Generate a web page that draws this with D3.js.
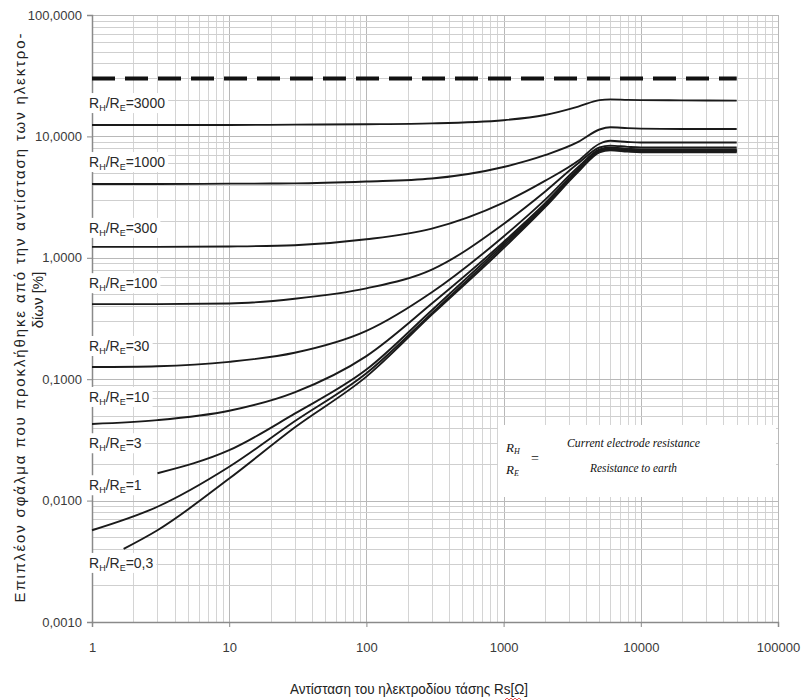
<!DOCTYPE html>
<html>
<head>
<meta charset="utf-8">
<script src="https://cdn.jsdelivr.net/npm/d3@7"></script>
<style>
  body { margin: 0; background: #fff; }
  text { font-family: "Liberation Sans", Arial, sans-serif; }
</style>
</head>
<body>
<script>
// Rs [Ω] against additional error [%], one series per RH/RE ratio
let ratioLabels = ['3000', '1000', '300', '100', '30', '10', '3', '1', '0,3'];

let rh3000 = [[1, 12.4], [3, 12.4], [10, 12.4], [30, 12.5], [100, 12.6], [300, 12.8], [1000, 13.6], [2000, 15.0], [3500, 17.6], [5000, 19.9], [6000, 20.2], [8000, 20.0], [10000, 19.9], [20000, 19.8], [50000, 19.7]];
let rh1000 = [[1, 4.05], [3, 4.05], [10, 4.08], [30, 4.1], [100, 4.25], [300, 4.5], [1000, 5.6], [2000, 7.0], [3500, 9.0], [5000, 11.4], [6000, 11.9], [8000, 11.7], [10000, 11.6], [20000, 11.5], [50000, 11.5]];
let rh300 = [[1, 1.23], [3, 1.23], [10, 1.24], [30, 1.27], [100, 1.42], [300, 1.74], [1000, 2.85], [2000, 4.3], [3500, 6.3], [5000, 8.7], [6000, 9.2], [8000, 9.0], [10000, 8.9], [20000, 8.9], [50000, 8.9]];
let rh100 = [[1, 0.415], [3, 0.415], [10, 0.42], [30, 0.46], [100, 0.56], [300, 0.8], [1000, 1.9], [2000, 3.5], [3500, 6.0], [5000, 8.1], [6000, 8.4], [8000, 8.2], [10000, 8.1], [20000, 8.1], [50000, 8.1]];
let rh30 = [[1, 0.126], [3, 0.128], [10, 0.139], [30, 0.165], [100, 0.25], [300, 0.52], [1000, 1.5], [2000, 3.0], [3500, 5.6], [5000, 7.8], [6000, 8.1], [8000, 7.9], [10000, 7.8], [20000, 7.8], [50000, 7.8]];
let rh10 = [[1, 0.0428], [3, 0.046], [10, 0.055], [30, 0.078], [100, 0.155], [300, 0.42], [1000, 1.35], [2000, 2.8], [3500, 5.4], [5000, 7.7], [6000, 8.0], [8000, 7.8], [10000, 7.7], [20000, 7.7], [50000, 7.7]];
let rh3 = [[3, 0.0168], [10, 0.026], [30, 0.052], [100, 0.12], [300, 0.37], [1000, 1.3], [2000, 2.7], [3500, 5.3], [5000, 7.6], [6000, 7.9], [8000, 7.7], [10000, 7.6], [20000, 7.6], [50000, 7.6]];
let rh1 = [[1, 0.0057], [3, 0.0089], [10, 0.019], [30, 0.045], [100, 0.112], [300, 0.35], [1000, 1.25], [2000, 2.65], [3500, 5.2], [5000, 7.5], [6000, 7.8], [8000, 7.6], [10000, 7.5], [20000, 7.5], [50000, 7.5]];
let rh03 = [[1.7, 0.004], [3, 0.0057], [10, 0.0152], [30, 0.04], [100, 0.105], [300, 0.34], [1000, 1.2], [2000, 2.6], [3500, 5.1], [5000, 7.4], [6000, 7.7], [8000, 7.5], [10000, 7.4], [20000, 7.4], [50000, 7.4]];

// the dashed limit line
let limitLine = [[1, 30], [50000, 30]];

let xTickValues = [1, 10, 100, 1000, 10000, 100000];
let yTickValues = [0.001, 0.01, 0.1, 1, 10, 100];

let series = [rh3000, rh1000, rh300, rh100, rh30, rh10, rh3, rh1, rh03];

let width = 801;
let height = 700;
let margin = {top: 15, right: 23, bottom: 78, left: 92};

let svg = d3.select('body')
    .append('svg')
    .attr('width', width)
    .attr('height', height);

let x = d3.scaleLog()
    .domain([1, 100000])
    .range([margin.left, width - margin.right]);

let y = d3.scaleLog()
    .domain([0.001, 100])
    .range([height - margin.bottom, margin.top]);

// grid
let grid = svg.append('g');

grid.selectAll('.vgrid')
    .data(x.ticks())
  .enter().append('line')
    .attr('x1', d => Math.round(x(d)) + 0.5)
    .attr('x2', d => Math.round(x(d)) + 0.5)
    .attr('y1', y(100))
    .attr('y2', y(0.001))
    .attr('stroke', d => xTickValues.includes(d) ? '#b8b8b8' : '#d4d4d4')
    .attr('stroke-width', 1);

grid.selectAll('.hgrid')
    .data(y.ticks())
  .enter().append('line')
    .attr('x1', x(1))
    .attr('x2', x(100000))
    .attr('y1', d => Math.round(y(d)) + 0.5)
    .attr('y2', d => Math.round(y(d)) + 0.5)
    .attr('stroke', d => yTickValues.some(t => Math.abs(t - d) < t * 1e-6) ? '#b8b8b8' : '#cfcfcf')
    .attr('stroke-width', 1);

// white box of the legend covers the grid
svg.append('rect')
    .attr('x', 498)
    .attr('y', 425)
    .attr('width', 278)
    .attr('height', 72)
    .attr('fill', '#fff');

// axes
let xAxis = d3.axisBottom(x)
    .tickValues(xTickValues)
    .tickFormat(d3.format('d'))
    .tickSize(5)
    .tickPadding(16);

let yAxis = d3.axisLeft(y)
    .tickValues(yTickValues)
    .tickFormat(d => d.toFixed(4).replace('.', ','))
    .tickSize(5)
    .tickPadding(5);

let gx = svg.append('g')
    .attr('transform', `translate(0,${y(0.001)})`)
    .call(xAxis);

let gy = svg.append('g')
    .attr('transform', `translate(${x(1)},0)`)
    .call(yAxis);

[gx, gy].forEach(g => {
    g.select('.domain').attr('stroke', '#8a8a8a').attr('stroke-width', 1.5);
    g.selectAll('.tick line').attr('stroke', '#8a8a8a');
    g.selectAll('.tick text')
        .attr('fill', '#3a3a3a')
        .style('font-size', '13px')
        .style('font-family', '"Liberation Sans", Arial, sans-serif');
});

// curves
let line = d3.line()
    .x(d => x(d[0]))
    .y(d => y(d[1]))
    .curve(d3.curveMonotoneX);

svg.append('path')
    .datum(limitLine)
    .attr('d', line)
    .attr('fill', 'none')
    .attr('stroke', '#111')
    .attr('stroke-width', 4)
    .attr('stroke-dasharray', '23,10');

svg.append('g')
    .selectAll('path')
    .data(series)
  .enter().append('path')
    .attr('d', line)
    .attr('fill', 'none')
    .attr('stroke', '#1a1a1a')
    .attr('stroke-width', 1.9);

// ratio labels: offset from each curve's left end (px)
let labelOffset = [-22, -22, -19, -21, -21, -27, -30, -45, 14];

let labels = svg.append('g');
ratioLabels.forEach((r, i) => {
    let first = series[i][0];
    let cy = y(first[1]) + labelOffset[i];
    let g = labels.append('g').attr('transform', `translate(89,${cy})`);
    let bg = g.append('rect').attr('fill', '#fff');
    let t = g.append('text')
        .attr('y', 5)
        .attr('fill', '#2a2a2a')
        .style('font-size', '14px');
    t.append('tspan').text('R');
    t.append('tspan').attr('dy', 3).style('font-size', '9px').text('H');
    t.append('tspan').attr('dy', -3).text('/R');
    t.append('tspan').attr('dy', 3).style('font-size', '9px').text('E');
    t.append('tspan').attr('dy', -3).text('=' + r);
    let bb = t.node().getBBox();
    bg.attr('x', -1).attr('y', -10).attr('width', bb.width + 4).attr('height', 20);
});

// legend text, italic serif
let serif = '"Liberation Serif", "DejaVu Serif", "Times New Roman", serif';
let leg = svg.append('g').attr('fill', '#111');

function legendText(xPos, yPos) {
    return leg.append('text')
        .attr('x', xPos)
        .attr('y', yPos)
        .style('font-family', serif)
        .style('font-style', 'italic')
        .style('font-size', '13px');
}

let rhT = legendText(506, 452);
rhT.append('tspan').text('R');
rhT.append('tspan').attr('dy', 2).style('font-size', '8px').text('H');
let reT = legendText(506, 474);
reT.append('tspan').text('R');
reT.append('tspan').attr('dy', 2).style('font-size', '8px').text('E');

legendText(531, 463)
    .style('font-style', 'normal')
    .style('font-size', '14px')
    .text('=');

legendText(567, 447)
    .attr('textLength', 133)
    .attr('lengthAdjust', 'spacingAndGlyphs')
    .text('Current electrode resistance');

legendText(590, 472)
    .attr('textLength', 87)
    .attr('lengthAdjust', 'spacingAndGlyphs')
    .text('Resistance to earth');

// axis titles
svg.append('text')
    .attr('x', 290)
    .attr('y', 694)
    .attr('textLength', 238)
    .attr('lengthAdjust', 'spacingAndGlyphs')
    .attr('fill', '#222')
    .style('font-family', '"Liberation Sans Narrow", "Arial Narrow", "Liberation Sans", sans-serif')
    .style('font-size', '15px')
    .text('Αντίσταση του ηλεκτροδίου τάσης Rs[Ω]');

// spell-check squiggle under Rs
let squiggle = d3.range(0, 9).map(i => [505 + i * 2, i % 2 ? 698 : 700]);
svg.append('path')
    .attr('d', d3.line()(squiggle))
    .attr('fill', 'none')
    .attr('stroke', '#e03030')
    .attr('stroke-width', 0.8);

let yTitle = svg.append('g')
    .attr('fill', '#222')
    .style('font-size', '15px');

yTitle.append('text')
    .attr('transform', 'translate(25,318) rotate(-90)')
    .attr('text-anchor', 'middle')
    .attr('textLength', 569)
    .attr('lengthAdjust', 'spacing')
    .text('Επιπλέον σφάλμα που προκλήθηκε από την αντίσταση των ηλεκτρο-');

yTitle.append('text')
    .attr('transform', 'translate(43,300) rotate(-90)')
    .attr('text-anchor', 'middle')
    .text('δίων [%]');
</script>
</body>
</html>
